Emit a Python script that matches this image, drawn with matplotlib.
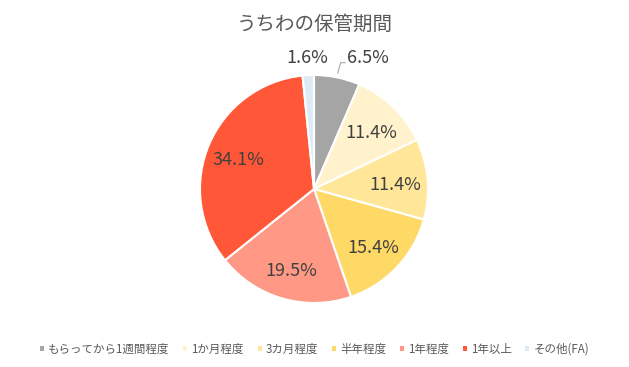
import matplotlib
matplotlib.use('Agg')
import matplotlib.pyplot as plt
import numpy as np

plt.rcParams['font.family'] = ['Noto Sans CJK JP', 'DejaVu Sans']

# data
labels = ['もらってから1週間程度', '1か月程度', '3カ月程度', '半年程度', '1年程度', '1年以上', 'その他(FA)']
values = [6.5, 11.4, 11.4, 15.4, 19.5, 34.1, 1.6]
colors = ['#A5A5A5', '#FFF2CC', '#FFE699', '#FFD966', '#FF9985', '#FF5737', '#DDEBF7']

fig = plt.figure(figsize=(6.29, 3.67), dpi=100)
ax = fig.add_axes([200 / 629, 64 / 367, 228 / 629, 228 / 367])

wedges, texts = ax.pie(
    values,
    colors=colors,
    startangle=90,
    counterclock=False,
    radius=1,
    wedgeprops=dict(edgecolor='white', linewidth=1.5),
)
ax.set_xlim(-1, 1)
ax.set_ylim(-1, 1)
ax.set_aspect('equal')
ax.axis('off')

# data labels
total = sum(values)
angle = 90
for i, v in enumerate(values):
    span = v / total * 360
    mid = np.deg2rad(angle - span / 2)
    angle -= span
    txt = f'{v:.1f}%'
    if i == 0:
        # small slice, label outside with a leader line
        ax.plot([0.208, 0.234, 0.272], [1.018, 1.108, 1.108], color='#A6A6A6',
                lw=0.8, clip_on=False)
        ax.text(0.29, 1.15, txt, fontsize=13, color='#404040', ha='left', va='center')
    elif i == len(values) - 1:
        ax.text(-0.06, 1.15, txt, fontsize=13, color='#404040', ha='center', va='center')
    else:
        r = 0.72
        ax.text(r * np.cos(mid), r * np.sin(mid) - 0.025, txt, fontsize=13,
                color='#404040', ha='center', va='center')

fig.text(0.5, 1 - 24 / 367, 'うちわの保管期間', fontsize=14, color='#595959',
         ha='center', va='center')

handles = [plt.Rectangle((0, 0), 1, 1, facecolor=c, edgecolor='none') for c in colors]
fig.legend(handles, labels, loc='center', bbox_to_anchor=(0.5, 1 - 349 / 367),
           ncol=7, frameon=False, fontsize=8.3, handlelength=0.35, handleheight=0.35,
           handletextpad=0.35, columnspacing=1.2, labelcolor='#595959',
           borderpad=0, borderaxespad=0)

fig.savefig('out.png', dpi=100)
